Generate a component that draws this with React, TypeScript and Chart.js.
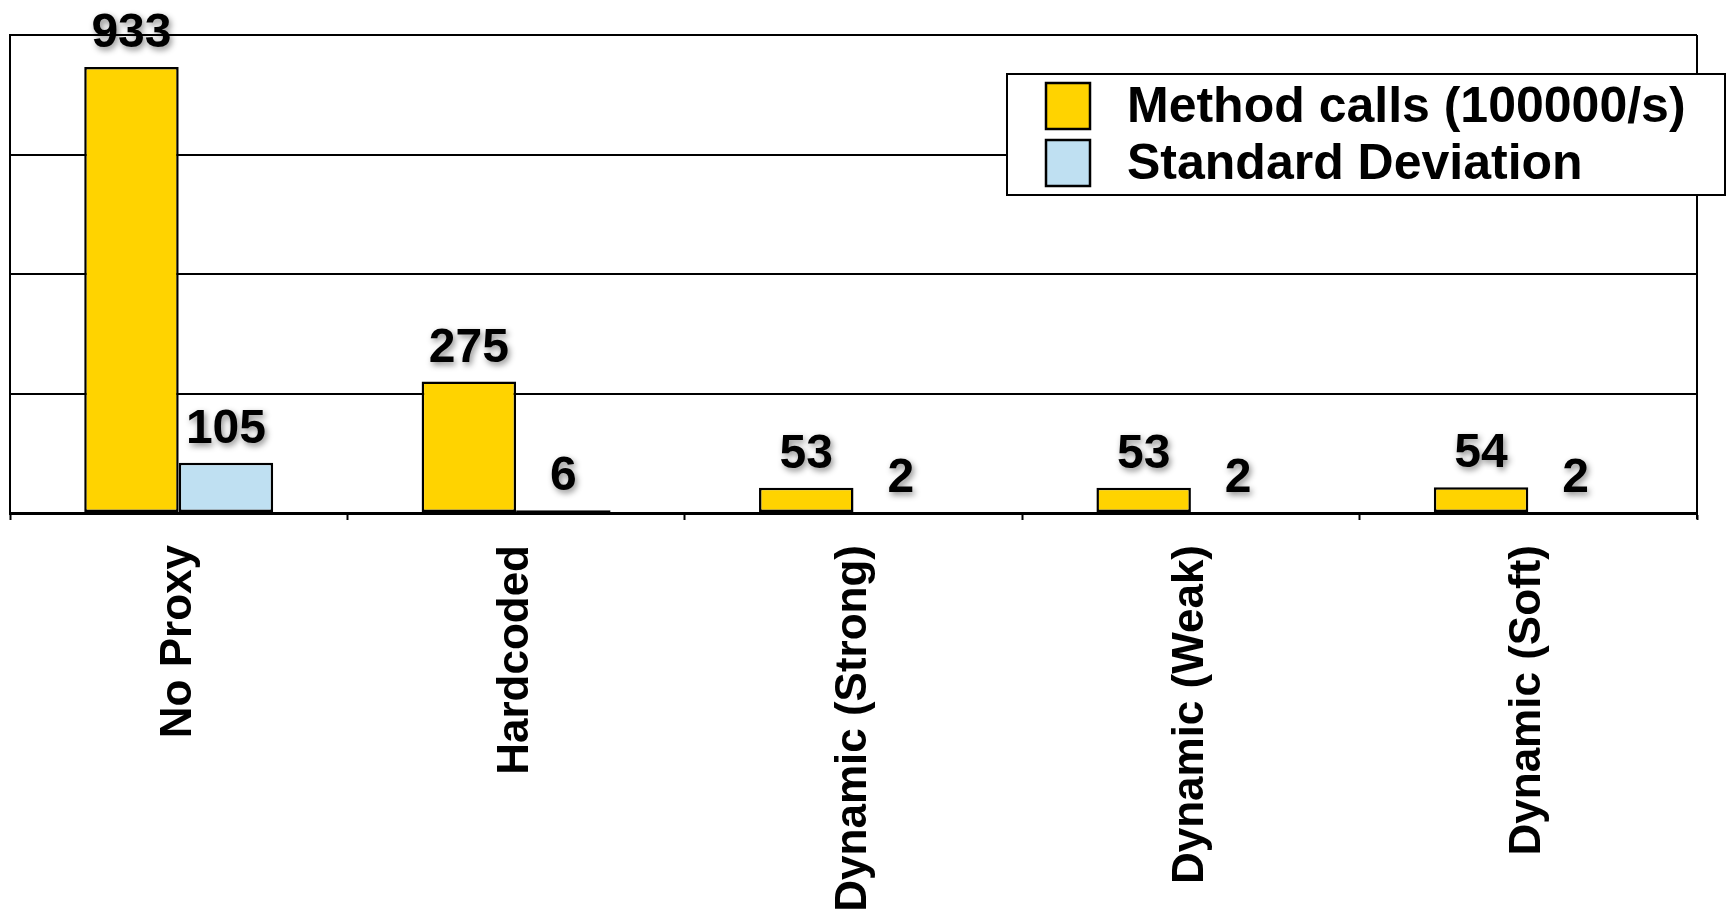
import React, { useEffect, useRef } from 'react';
import { Chart, registerables } from 'chart.js';

Chart.register(...registerables);

const categories = ['No Proxy', 'Hardcoded', 'Dynamic (Strong)', 'Dynamic (Weak)', 'Dynamic (Soft)'];
const methodCalls = [933, 275, 53, 53, 54];
const stdDeviation = [105, 6, 2, 2, 2];
const seriesNames = ['Method calls (100000/s)', 'Standard Deviation'];
const seriesColors = ['#FFD300', '#BFE0F2'];
const yMin = 0;
const yMax = 1000;
const yStep = 250;

const FONT = '"Liberation Sans", Arial, Helvetica, sans-serif';

const valueLabelPlugin = {
  id: 'valueLabels',
  afterDatasetsDraw(chart: any) {
    const ctx = chart.ctx;
    ctx.save();
    ctx.font = `bold 48px ${FONT}`;
    ctx.textAlign = 'center';
    ctx.textBaseline = 'alphabetic';
    ctx.fillStyle = '#000';
    ctx.shadowColor = 'rgba(0,0,0,0.45)';
    ctx.shadowBlur = 6;
    ctx.shadowOffsetX = 2;
    ctx.shadowOffsetY = 3;
    chart.data.datasets.forEach((ds: any, di: number) => {
      const meta = chart.getDatasetMeta(di);
      meta.data.forEach((bar: any, i: number) => {
        ctx.fillText(String(ds.data[i]), bar.x, bar.y - 20);
      });
    });
    ctx.restore();
  },
};

const frameLegendPlugin = {
  id: 'frameLegend',
  beforeDatasetsDraw(chart: any) {
    const { ctx, chartArea } = chart;
    ctx.save();
    ctx.strokeStyle = '#000';
    ctx.lineWidth = 2;
    ctx.beginPath();
    ctx.moveTo(chartArea.right, chartArea.top);
    ctx.lineTo(chartArea.right, chartArea.bottom + 6);
    ctx.stroke();
    ctx.restore();
  },
  afterDraw(chart: any) {
    const { ctx, chartArea } = chart;
    const boxX = chartArea.right - 690;
    const boxY = chartArea.top + 39;
    const boxW = 718;
    const boxH = 121;
    ctx.save();
    ctx.fillStyle = '#fff';
    ctx.fillRect(boxX, boxY, boxW, boxH);
    ctx.strokeStyle = '#000';
    ctx.lineWidth = 2;
    ctx.strokeRect(boxX, boxY, boxW, boxH);
    ctx.font = `bold 50px ${FONT}`;
    ctx.textAlign = 'left';
    ctx.textBaseline = 'middle';
    chart.data.datasets.forEach((ds: any, i: number) => {
      const cy = boxY + 32 + i * 57;
      ctx.fillStyle = ds.backgroundColor;
      ctx.fillRect(boxX + 39, cy - 23, 44, 46);
      ctx.strokeStyle = '#000';
      ctx.lineWidth = 2.5;
      ctx.strokeRect(boxX + 39, cy - 23, 44, 46);
      ctx.fillStyle = '#000';
      ctx.fillText(ds.label, boxX + 120, cy + 2);
    });
    ctx.restore();
  },
};

export default function App() {
  const ref = useRef<HTMLCanvasElement | null>(null);
  useEffect(() => {
    if (!ref.current) return;
    const chart = new Chart(ref.current, {
      type: 'bar',
      data: {
        labels: categories,
        datasets: [
          {
            label: seriesNames[0],
            data: methodCalls,
            backgroundColor: seriesColors[0],
            borderColor: '#000',
            borderWidth: 2.5,
            borderSkipped: false,
          },
          {
            label: seriesNames[1],
            data: stdDeviation,
            backgroundColor: seriesColors[1],
            borderColor: '#000',
            borderWidth: 2.5,
            borderSkipped: false,
          },
        ],
      },
      options: {
        responsive: false,
        animation: false,
        devicePixelRatio: 1,
        layout: { padding: { left: 10, top: 35, right: 30, bottom: 0 } },
        datasets: { bar: { categoryPercentage: 0.56, barPercentage: 1 } },
        plugins: {
          legend: { display: false },
          tooltip: { enabled: false },
        },
        scales: {
          x: {
            afterFit(scale: any) {
              scale.height = 400;
            },
            grid: {
              offset: true,
              drawOnChartArea: false,
              drawTicks: true,
              tickLength: 7,
              tickColor: '#000',
              tickWidth: 2,
            },
            border: { color: '#000', width: 3 },
            ticks: {
              minRotation: 90,
              maxRotation: 90,
              autoSkip: false,
              padding: 25,
              color: '#000',
              font: { family: FONT, size: 44, weight: 'bold' },
            },
          },
          y: {
            min: yMin,
            max: yMax,
            ticks: { display: false, stepSize: yStep },
            grid: { color: '#000', lineWidth: 2, drawTicks: false },
            border: { color: '#000', width: 2 },
          },
        },
      },
      plugins: [valueLabelPlugin, frameLegendPlugin],
    });
    return () => chart.destroy();
  }, []);
  return (
    <canvas
      ref={ref}
      width={1727}
      height={913}
      style={{ position: 'absolute', left: 0, top: 0, display: 'block' }}
    />
  );
}
